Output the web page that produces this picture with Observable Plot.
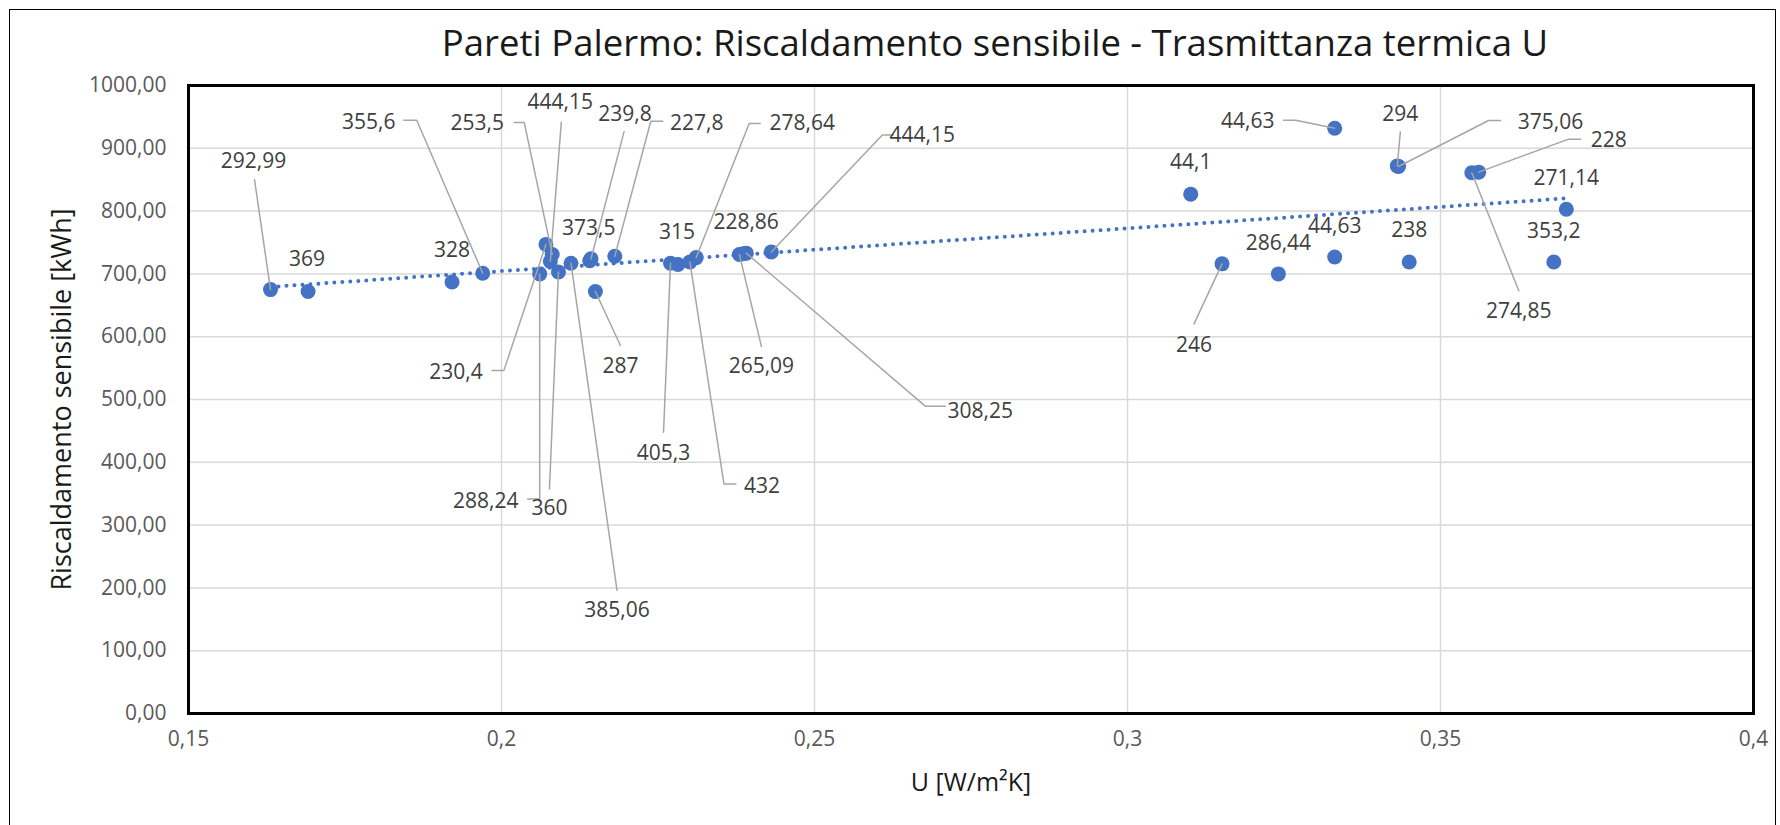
<!DOCTYPE html>
<html>
<head>
<meta charset="utf-8">
<script src="https://cdn.jsdelivr.net/npm/d3@7"></script>
<script src="https://cdn.jsdelivr.net/npm/@observablehq/plot@0.6"></script>
<style>
  html, body { margin: 0; padding: 0; background: #fff; }
  #wrap { position: relative; width: 1780px; height: 825px; overflow: hidden; font-family: "Open Sans", sans-serif; }
  #border { position: absolute; left: 9px; top: 9px; width: 1767px; height: 900px; border: 1.5px solid #000; box-sizing: border-box; }
  #title { position: absolute; left: 995px; top: 24px; transform: translateX(-50%); white-space: nowrap;
           font-size: 36.5px; line-height: 36px; color: #1a1a1a; }
  #chart { position: absolute; left: 0; top: 0; }
</style>
</head>
<body>
<div id="wrap">
  <div id="border"></div>
  <div id="chart"></div>
  <div id="title">Pareti Palermo: Riscaldamento sensibile - Trasmittanza termica U</div>
</div>
<script>
// ---- data ----
const U = [0.1631, 0.1691, 0.1921, 0.1970, 0.2071, 0.2081, 0.2078, 0.2061, 0.2091, 0.2111,
           0.2141, 0.2143, 0.2181, 0.2150, 0.2270, 0.2282, 0.2301, 0.2311, 0.2380, 0.2386,
           0.2391, 0.2431, 0.3101, 0.3151, 0.3241, 0.3331, 0.3331, 0.3431, 0.3433, 0.3450,
           0.3561, 0.3550, 0.3681, 0.3701];
const heating = [675, 672, 687, 701, 747, 731, 720, 700, 703, 717,
                 721, 724, 728, 672, 717, 715, 719, 726, 731, 732,
                 733, 735, 827, 716, 700, 932, 727, 872, 871, 719,
                 862, 861, 719, 803];
const pointLabels = ["292,99", "369", "328", "355,6", "230,4", "253,5", "444,15", "288,24", "360", "385,06",
                     "373,5", "239,8", "227,8", "287", "405,3", "315", "432", "278,64", "265,09", "228,86",
                     "308,25", "444,15", "44,1", "246", "286,44", "44,63", "44,63", "294", "375,06", "238",
                     "228", "274,85", "353,2", "271,14"];
const xTicks = [0.15, 0.2, 0.25, 0.3, 0.35, 0.4];
const yTicks = [0, 100, 200, 300, 400, 500, 600, 700, 800, 900, 1000];
const title = "Pareti Palermo: Riscaldamento sensibile - Trasmittanza termica U";
const xTitle = "U [W/m²K]";
const yTitle = "Riscaldamento sensibile [kWh]";

// ---- layout: label offsets (px) relative to each point, and leader-line elbows ----
const labelOffsets = [[-17,-128],[-1,-32],[0,-32],[-114,-151],[-90,128],[-75,-131],[10,-159],[-54,227],[-9,236],[46,347],
                      [-1,-32],[34,-145],[82,-133],[25,75],[-7,190],[-1,-32],[72,224],[106,-134],[22,112],[3,-32],
                      [234,158],[151,-117],[0,-32],[-28,81],[0,-31],[-87,-7],[0,-31],[3,-52],[152,-44],[0,-32],
                      [130,-32],[47,138],[0,-31],[0,-31]];
const leaderPaths = {
  0: [[-16,-110]], 3: [[-79,-153],[-66,-153]], 4: [[-54,126],[-42,126]], 5: [[-38,-132],[-28,-132]],
  6: [[11,-139]], 7: [[-12,225],[0,225]], 8: [[-9,217]], 9: [[46,327]], 11: [[33,-127]],
  12: [[48,-135],[36,-135]], 13: [[25,54]], 14: [[-7,169]], 16: [[46,222],[34,222]],
  17: [[64,-134],[53,-134]], 18: [[22,92]], 20: [[199,153],[179,153]], 21: [[122,-117],[111,-117]],
  23: [[-28,60]], 25: [[-51,-8],[-39,-8]], 27: [[3,-34]], 28: [[102,-46],[90,-46]],
  30: [[102,-33],[90,-33]], 31: [[47,118]]
};

const W = 1780, H = 825, ML = 188, MR = 27, MT = 85, MB = 112;
const X_DOMAIN = [0.15, 0.4], Y_DOMAIN = [0, 1000];
const xS = d3.scaleLinear().domain(X_DOMAIN).range([ML, W - MR]);
const yS = d3.scaleLinear().domain(Y_DOMAIN).range([H - MB, MT]);

const points = U.map((u, i) => ({u, v: heating[i], label: pointLabels[i]}));
const labelRows = points.map((p, i) => ({
  x: xS.invert(xS(p.u) + labelOffsets[i][0]),
  y: yS.invert(yS(p.v) + labelOffsets[i][1]),
  text: p.label
}));
const leaderRows = [];
for (const [k, path] of Object.entries(leaderPaths)) {
  const p = points[+k];
  for (const [dx, dy] of path) leaderRows.push({id: k, x: xS.invert(xS(p.u) + dx), y: yS.invert(yS(p.v) + dy)});
  leaderRows.push({id: k, x: p.u, y: p.v});
}
const fmtX = d => String(d).replace(".", ",");
const fmtY = d => d.toFixed(2).replace(".", ",");

const chart = Plot.plot({
  width: W, height: H,
  marginLeft: ML, marginRight: MR, marginTop: MT, marginBottom: MB,
  x: {domain: X_DOMAIN, axis: null},
  y: {domain: Y_DOMAIN, axis: null},
  style: {fontFamily: "'Open Sans', sans-serif", background: "transparent", overflow: "visible"},
  marks: [
    Plot.ruleX(xTicks, {x: d => d, stroke: "#d9d9d9", strokeWidth: 1.5}),
    Plot.ruleY(yTicks, {y: d => d, stroke: "#d9d9d9", strokeWidth: 1.5}),
    Plot.frame({stroke: "#000", strokeWidth: 3}),
    Plot.text(xTicks, {x: d => d, frameAnchor: "bottom", dy: 32, text: fmtX, fontSize: 21, fill: "#595959"}),
    Plot.text(yTicks, {y: d => d, frameAnchor: "left", dx: -22, textAnchor: "end", text: fmtY, fontSize: 21, fill: "#595959"}),
    Plot.text([xTitle], {frameAnchor: "bottom", dy: 77, textAnchor: "middle", text: d => d, fontSize: 25, fill: "#1a1a1a"}),
    Plot.text([yTitle], {frameAnchor: "left", dx: -126, rotate: -90, textAnchor: "middle", text: d => d, fontSize: 27, fill: "#1a1a1a"}),
    Plot.dot(points, {x: "u", y: "v", r: 7.5, fill: "#4472C4", stroke: "none"}),
    Plot.linearRegressionY(points, {x: "u", y: "v", stroke: "#4472C4", strokeWidth: 4,
      strokeDasharray: "0,8", strokeLinecap: "round", ci: 0}),
    Plot.line(leaderRows, {x: "x", y: "y", z: "id", stroke: "#a6a6a6", strokeWidth: 1.5, curve: "linear"}),
    Plot.text(labelRows, {x: "x", y: "y", text: "text", fontSize: 21, fill: "#404040"})
  ]
});
document.getElementById("chart").appendChild(chart);
</script>
</body>
</html>
